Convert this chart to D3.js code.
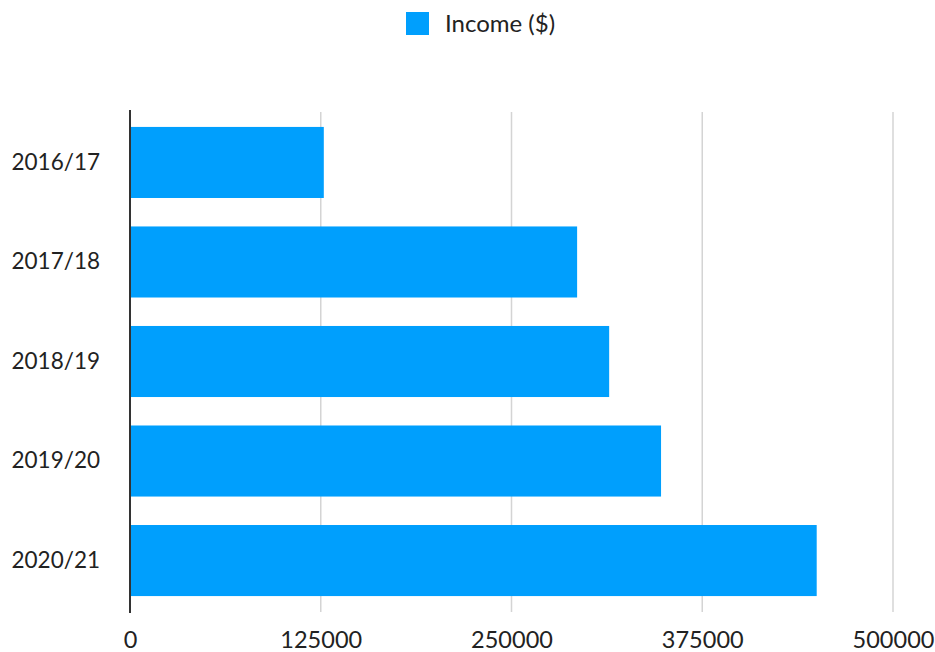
<!DOCTYPE html>
<meta charset="utf-8">
<script src="https://d3js.org/d3.v7.min.js"></script>
<style>
  body { margin: 0; background: #fff; }
  text { font-family: Lato, "Open Sans", sans-serif; fill: #222; }
</style>
<div id="chart"></div>
<script>
// data
const years = ["2016/17", "2017/18", "2018/19", "2019/20", "2020/21"];
const income = [127000, 293000, 314000, 348000, 450000];
const xTicks = [0, 125000, 250000, 375000, 500000];
const seriesName = "Income ($)";

const W = 935, H = 652;
const plot = {left: 130, right: 893, top: 112, bottom: 611};

const svg = d3.select("#chart").append("svg")
  .attr("width", W)
  .attr("height", H);

const x = d3.scaleLinear().domain([0, 500000]).range([plot.left, plot.right]);
const y = d3.scaleBand()
  .domain(years)
  .range([plot.top, plot.bottom])
  .paddingInner(0.286)
  .paddingOuter(0.15);

// gridlines
svg.append("g")
  .selectAll("line")
  .data(xTicks.slice(1))
  .join("line")
    .attr("x1", d => x(d)).attr("x2", d => x(d))
    .attr("y1", plot.top).attr("y2", plot.bottom + 1)
    .attr("stroke", "#d4d4d4")
    .attr("stroke-width", 1.5);

// bars
svg.append("g")
  .selectAll("rect")
  .data(years.map((d, i) => ({year: d, value: income[i]})))
  .join("rect")
    .attr("x", x(0))
    .attr("y", d => y(d.year))
    .attr("width", d => x(d.value) - x(0))
    .attr("height", y.bandwidth())
    .attr("fill", "#009ffd");

// x tick labels
svg.append("g")
  .attr("transform", `translate(0,${plot.bottom})`)
  .call(d3.axisBottom(x).tickValues(xTicks).tickSize(0).tickPadding(20).tickFormat(d3.format("d")))
  .call(g => g.select(".domain").remove())
  .selectAll("text")
    .style("font-size", "23.5px")
    .style("font-family", "Lato, sans-serif")
    .attr("fill", "#222");

// y labels
svg.append("g")
  .attr("transform", `translate(${plot.left},0)`)
  .call(d3.axisLeft(y).tickSize(0).tickPadding(30))
  .call(g => g.select(".domain").remove())
  .selectAll("text")
    .style("font-size", "22.5px")
    .style("font-family", "Lato, sans-serif")
    .attr("fill", "#222");

// zero axis line
svg.append("line")
  .attr("x1", x(0)).attr("x2", x(0))
  .attr("y1", plot.top - 2).attr("y2", plot.bottom + 2)
  .attr("stroke", "#333")
  .attr("stroke-width", 2);

// legend
const legend = svg.append("g").attr("transform", "translate(406,12)");
legend.append("rect")
  .attr("width", 23).attr("height", 23)
  .attr("fill", "#009ffd");
legend.append("text")
  .attr("x", 39).attr("y", 20)
  .style("font-size", "24px")
  .text(seriesName);
</script>
